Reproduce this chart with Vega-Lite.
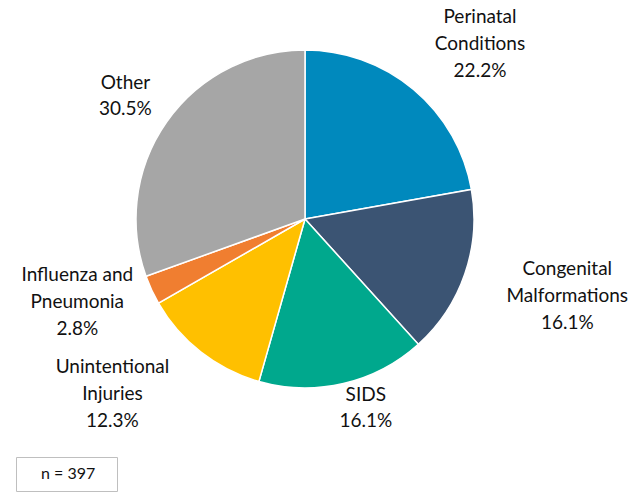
{
  "$schema": "https://vega.github.io/schema/vega-lite/v6.json",
  "width": 610,
  "height": 438,
  "autosize": {"type": "none"},
  "padding": {"left": 0, "top": 0, "right": 24, "bottom": 54},
  "background": "white",
  "config": {"view": {"stroke": null}, "font": "Lato"},
  "data": {"values": [
    {"rank": 1, "cause": "Perinatal Conditions", "pct": 22.2, "label": "Perinatal\nConditions\n22.2%"},
    {"rank": 2, "cause": "Congenital Malformations", "pct": 16.1, "label": "Congenital\nMalformations\n16.1%"},
    {"rank": 3, "cause": "SIDS", "pct": 16.1, "label": "SIDS\n16.1%"},
    {"rank": 4, "cause": "Unintentional Injuries", "pct": 12.3, "label": "Unintentional\nInjuries\n12.3%"},
    {"rank": 5, "cause": "Influenza and Pneumonia", "pct": 2.8, "label": "Influenza  and\nPneumonia\n2.8%"},
    {"rank": 6, "cause": "Other", "pct": 30.5, "label": "Other\n30.5%"}
  ]},
  "encoding": {
    "theta": {"field": "pct", "type": "quantitative", "stack": true},
    "order": {"field": "rank", "type": "ordinal"}
  },
  "layer": [
    {
      "mark": {"type": "arc", "outerRadius": 169, "stroke": "white", "strokeWidth": 1.5},
      "encoding": {
        "color": {
          "field": "cause", "type": "nominal", "legend": null,
          "scale": {
            "domain": ["Perinatal Conditions", "Congenital Malformations", "SIDS", "Unintentional Injuries", "Influenza and Pneumonia", "Other"],
            "range": ["#0089BD", "#3B5473", "#00A88D", "#FFC000", "#F07E30", "#A6A6A6"]
          }
        }
      }
    },
    {
      "mark": {"type": "text", "radius": 246, "dx": 17, "dy": -13, "fontSize": 19, "lineHeight": 27, "lineBreak": "\n", "align": "center", "baseline": "middle", "color": "#111111"},
      "encoding": {"text": {"condition": {"test": "datum.rank === 1", "field": "label"}, "value": ""}}
    },
    {
      "mark": {"type": "text", "radius": 273, "dx": 4, "dy": -38, "fontSize": 19, "lineHeight": 27, "lineBreak": "\n", "align": "center", "baseline": "middle", "color": "#111111"},
      "encoding": {"text": {"condition": {"test": "datum.rank === 2", "field": "label"}, "value": ""}}
    },
    {
      "mark": {"type": "text", "radius": 197, "dx": 16, "dy": -16, "fontSize": 19, "lineHeight": 26, "lineBreak": "\n", "align": "center", "baseline": "middle", "color": "#111111"},
      "encoding": {"text": {"condition": {"test": "datum.rank === 3", "field": "label"}, "value": ""}}
    },
    {
      "mark": {"type": "text", "radius": 256, "dx": -35, "dy": -54, "fontSize": 19, "lineHeight": 27, "lineBreak": "\n", "align": "center", "baseline": "middle", "color": "#111111"},
      "encoding": {"text": {"condition": {"test": "datum.rank === 4", "field": "label"}, "value": ""}}
    },
    {
      "mark": {"type": "text", "radius": 241, "dx": -9, "dy": -45, "fontSize": 19, "lineHeight": 27, "lineBreak": "\n", "align": "center", "baseline": "middle", "color": "#111111"},
      "encoding": {"text": {"condition": {"test": "datum.rank === 5", "field": "label"}, "value": ""}}
    },
    {
      "mark": {"type": "text", "radius": 217, "dx": -2, "dy": -11, "fontSize": 19, "lineHeight": 26, "lineBreak": "\n", "align": "center", "baseline": "middle", "color": "#111111"},
      "encoding": {"text": {"condition": {"test": "datum.rank === 6", "field": "label"}, "value": ""}}
    },
    {
      "data": {"values": [{"note": "n = 397"}]},
      "mark": {"type": "point", "opacity": 0},
      "encoding": {
        "theta": null,
        "order": null,
        "color": {
          "field": "note", "type": "nominal",
          "scale": {"range": ["white"]},
          "legend": {
            "title": null,
            "orient": "none",
            "legendX": 16,
            "legendY": 457,
            "padding": 9,
            "strokeColor": "#BFBFBF",
            "fillColor": "white",
            "symbolSize": 0,
            "symbolOpacity": 0,
            "symbolStrokeWidth": 0,
            "labelOffset": 0,
            "labelFontSize": 16,
            "labelColor": "#111111",
            "labelFont": "Lato",
            "labelExpr": "datum.label + '\u2800'"
          }
        }
      }
    }
  ],
  "resolve": {"scale": {"color": "independent"}}
}
